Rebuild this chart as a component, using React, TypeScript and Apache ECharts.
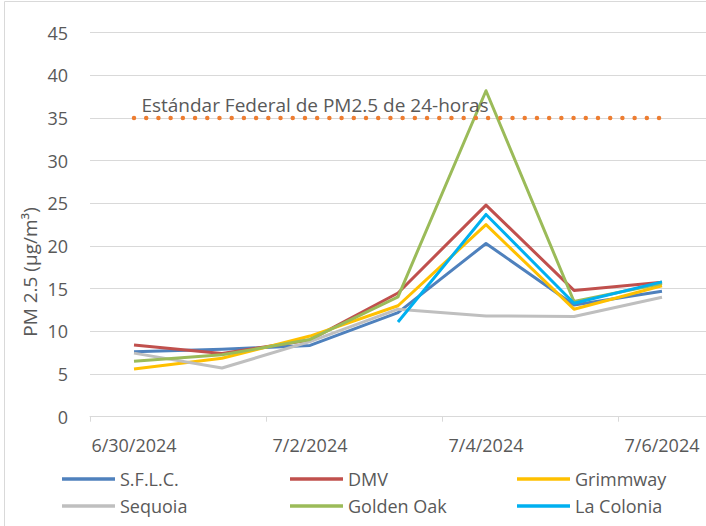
import React, { useEffect, useRef } from "react";
import * as echarts from "echarts";

const categories = ["6/30/2024", "7/1/2024", "7/2/2024", "7/3/2024", "7/4/2024", "7/5/2024", "7/6/2024"];
const sflc = [7.6, 7.9, 8.35, 12.2, 20.3, 13.1, 14.7];
const dmv = [8.4, 7.4, 9.0, 14.5, 24.8, 14.8, 15.75];
const grimmway = [5.6, 6.85, 9.45, 13.0, 22.5, 12.6, 15.35];
const sequoia = [7.45, 5.7, 8.8, 12.6, 11.8, 11.75, 14.0];
const goldenOak = [6.5, 7.25, 9.05, 14.05, 38.2, 13.5, 15.6];
const laColonia = [null, null, null, 11.1, 23.7, 13.3, 15.8];
const standard = [35, 35, 35, 35, 35, 35, 35];
const standardLabel = "Estándar Federal de PM2.5 de 24-horas";
const yTitle = "PM 2.5 (µg/m³)";

const seriesDefs = [
  { name: "S.F.L.C.", data: sflc, color: "#4F81BD" },
  { name: "DMV", data: dmv, color: "#C0504D" },
  { name: "Grimmway", data: grimmway, color: "#FFC000" },
  { name: "Sequoia", data: sequoia, color: "#BFBFBF" },
  { name: "Golden Oak", data: goldenOak, color: "#9BBB59" },
  { name: "La Colonia", data: laColonia, color: "#00B0F0" },
];

const FONT = "Open Sans";
const TXT = "#595959";

export default function App() {
  const ref = useRef<HTMLDivElement>(null);
  useEffect(() => {
    document.body.style.margin = "0";
    const chart = echarts.init(ref.current!, undefined, { renderer: "svg" });
    const legendPos = [
      [62, 470], [290, 470], [517, 470],
      [62, 497], [290, 497], [517, 497],
    ];
    const series: any[] = seriesDefs.map((s) => ({
      name: s.name,
      type: "line",
      data: s.data,
      symbol: "none",
      color: s.color,
      lineStyle: { width: 3, color: s.color, join: "round" },
      connectNulls: false,
    }));
    series.push({
      name: "standard",
      type: "line",
      data: standard.map((v, i) =>
        i === 2
          ? {
              value: v,
              symbol: "circle",
              symbolSize: 1,
              itemStyle: { color: "rgba(0,0,0,0)" },
              label: {
                show: true,
                position: "top",
                distance: 3,
                offset: [5, 0],
                formatter: standardLabel,
                color: TXT,
                fontSize: 19,
                fontFamily: FONT,
              },
            }
          : { value: v, symbol: "none" }
      ),
      symbol: "none",
      showSymbol: true,
      color: "#ED7D31",
      lineStyle: { width: 4.5, color: "#ED7D31", type: [0.01, 12.2], cap: "round" },
    });
    chart.setOption({
      animation: false,
      textStyle: { fontFamily: FONT },
      grid: { left: 90, top: 32.7, width: 620, bottom: 109.3, containLabel: false },
      legend: seriesDefs.map((s, i) => ({
        data: [s.name],
        left: legendPos[i][0],
        top: legendPos[i][1],
        icon: "rect",
        itemWidth: 53,
        itemHeight: 3.5,
        itemGap: 0,
        padding: 0,
        textStyle: { color: TXT, fontSize: 18, fontFamily: FONT, lineHeight: 18 },
        selectedMode: false,
      })),
      xAxis: {
        type: "category",
        data: categories,
        boundaryGap: true,
        axisLine: { lineStyle: { color: "#D9D9D9", width: 1 } },
        axisTick: { show: true, interval: 1, length: 5, lineStyle: { color: "#D9D9D9" } },
        axisLabel: { interval: 1, color: TXT, fontSize: 18, fontFamily: FONT, margin: 19 },
        splitLine: { show: false },
      },
      yAxis: {
        type: "value",
        min: 0,
        max: 45,
        interval: 5,
        axisLine: { show: false },
        axisTick: { show: false },
        axisLabel: { color: TXT, fontSize: 18, fontFamily: FONT, margin: 22 },
        splitLine: { lineStyle: { color: "#D9D9D9", width: 1 } },
      },
      graphic: [
        {
          type: "rect",
          shape: { x: 4.5, y: 1.5, width: 900, height: 700 },
          style: { fill: "none", stroke: "#D9D9D9", lineWidth: 1 },
          silent: true,
        },
        {
          type: "text",
          x: 30,
          y: 272,
          rotation: Math.PI / 2,
          style: {
            text: yTitle,
            fill: TXT,
            fontSize: 19,
            fontFamily: FONT,
            align: "center",
            verticalAlign: "middle",
          },
        },
      ],
      series,
    });
    return () => chart.dispose();
  }, []);
  return <div ref={ref} style={{ width: 706, height: 526 }} />;
}
